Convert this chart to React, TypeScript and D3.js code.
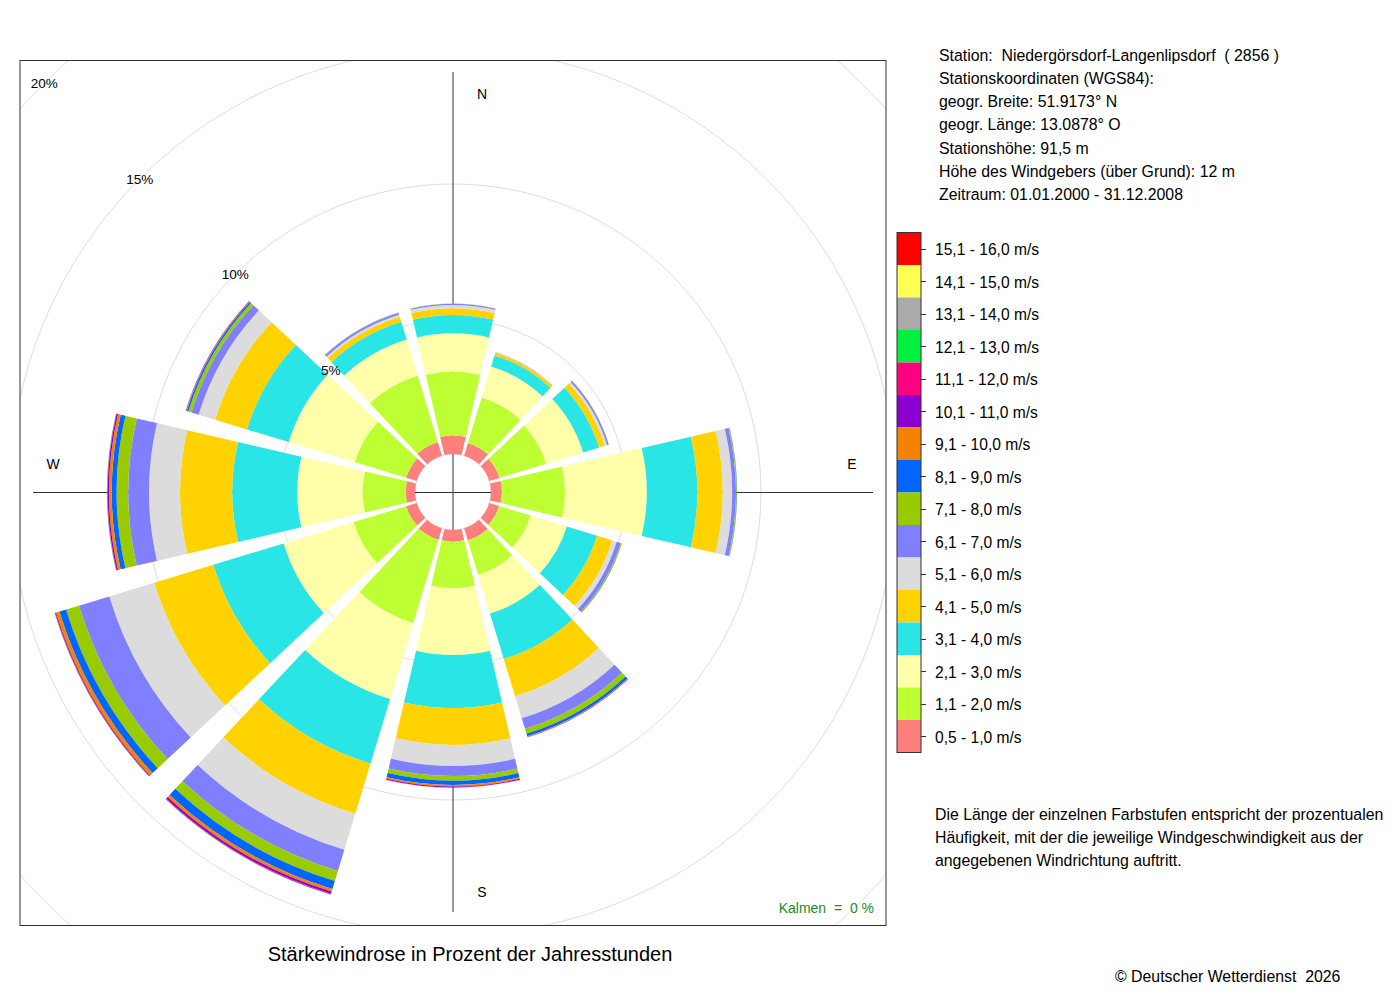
import React from "react";
import * as d3 from "d3";

// Wind directions (degrees, compass)
const DIRECTIONS = [0, 30, 60, 90, 120, 150, 180, 210, 240, 270, 300, 330];

// Speed classes (legend)
const SPEED_LABELS = [
  "0,5 - 1,0 m/s", "1,1 - 2,0 m/s", "2,1 - 3,0 m/s", "3,1 - 4,0 m/s",
  "4,1 - 5,0 m/s", "5,1 - 6,0 m/s", "6,1 - 7,0 m/s", "7,1 - 8,0 m/s",
  "8,1 - 9,0 m/s", "9,1 - 10,0 m/s", "10,1 - 11,0 m/s", "11,1 - 12,0 m/s",
  "12,1 - 13,0 m/s", "13,1 - 14,0 m/s", "14,1 - 15,0 m/s", "15,1 - 16,0 m/s",
];
const SPEED_COLORS = [
  "#FF7F7F", "#BEFF33", "#FFFFAA", "#29E5E5",
  "#FFD200", "#DCDCDC", "#7F7FFF", "#99CC00",
  "#0066FF", "#F58200", "#8B00D0", "#FF0080",
  "#00F040", "#AAAAAA", "#FFFF55", "#FF0000",
];

// Frequencies in % of year hours, per direction (N, 30, 60, ..., 330)
const F_05_10 = [0.68, 0.49, 0.39, 0.40, 0.38, 0.47, 0.43, 0.45, 0.41, 0.34, 0.41, 0.53];
const F_11_20 = [2.37, 1.76, 1.81, 2.34, 1.22, 1.33, 1.73, 3.22, 2.04, 1.60, 1.99, 2.57];
const F_21_30 = [1.42, 1.20, 1.43, 3.03, 1.40, 1.50, 2.47, 2.94, 2.70, 2.42, 2.55, 1.40];
const F_31_40 = [0.68, 0.43, 0.62, 1.87, 1.17, 1.76, 1.97, 2.50, 2.72, 2.41, 1.62, 0.68];
const F_41_50 = [0.25, 0.10, 0.22, 0.94, 0.59, 1.44, 1.36, 1.94, 2.29, 1.93, 1.23, 0.20];
const F_51_60 = [0.12, 0.02, 0.09, 0.35, 0.17, 0.85, 0.78, 1.39, 1.74, 1.15, 0.64, 0.07];
const F_61_70 = [0.04, 0.01, 0.06, 0.14, 0.15, 0.41, 0.37, 0.82, 1.17, 0.77, 0.28, 0.07];
const F_71_80 = [0.01, 0.00, 0.01, 0.03, 0.04, 0.19, 0.17, 0.39, 0.50, 0.43, 0.12, 0.01];
const F_81_90 = [0.00, 0.00, 0.00, 0.01, 0.01, 0.10, 0.16, 0.31, 0.26, 0.18, 0.06, 0.01];
const F_91_100 = [0.00, 0.00, 0.00, 0.00, 0.00, 0.03, 0.06, 0.10, 0.13, 0.10, 0.02, 0.00];
const F_101_110 = [0.00, 0.00, 0.00, 0.00, 0.00, 0.01, 0.03, 0.08, 0.03, 0.05, 0.01, 0.00];
const F_111_120 = [0.00, 0.00, 0.00, 0.00, 0.00, 0.00, 0.01, 0.03, 0.02, 0.02, 0.01, 0.00];
const F_121_130 = [0.00, 0.00, 0.00, 0.00, 0.00, 0.00, 0.00, 0.01, 0.01, 0.01, 0.00, 0.00];
const F_131_140 = [0, 0, 0, 0, 0, 0, 0, 0, 0, 0, 0, 0];
const F_141_150 = [0, 0, 0, 0, 0, 0, 0, 0, 0, 0, 0, 0];
const F_151_160 = [0, 0, 0, 0, 0, 0, 0, 0, 0, 0, 0, 0];

const RING_VALUES = [5, 10, 15, 20];
const RING_LABELS = ["5%", "10%", "15%", "20%"];
const CARDINALS = ["N", "E", "S", "W"];

const STATION_INFO = [
  "Station:  Niedergörsdorf-Langenlipsdorf  ( 2856 )",
  "Stationskoordinaten (WGS84):",
  "geogr. Breite: 51.9173° N",
  "geogr. Länge: 13.0878° O",
  "Stationshöhe: 91,5 m",
  "Höhe des Windgebers (über Grund): 12 m",
  "Zeitraum: 01.01.2000 - 31.12.2008",
];
const NOTE_LINES = [
  "Die Länge der einzelnen Farbstufen entspricht der prozentualen",
  "Häufigkeit, mit der die jeweilige Windgeschwindigkeit aus der",
  "angegebenen Windrichtung auftritt.",
];
const TITLE = "Stärkewindrose in Prozent der Jahresstunden";
const CALMS = "Kalmen  =  0 %";
const COPYRIGHT = "© Deutscher Wetterdienst  2026";

const CLASS_FREQS = [
  F_05_10, F_11_20, F_21_30, F_31_40, F_41_50, F_51_60, F_61_70, F_71_80,
  F_81_90, F_91_100, F_101_110, F_111_120, F_121_130, F_131_140, F_141_150, F_151_160,
];

const FONT = "'Liberation Sans', Arial, Helvetica, sans-serif";

export default function App() {
  const cx = 453;
  const cy = 492;
  const frame = { x: 20, y: 60.5, w: 866, h: 865 };
  const r = d3.scaleLinear().domain([0, 20]).range([38, 578]);
  const halfWidth = 13.1; // degrees
  const toRad = (deg: number) => (deg * Math.PI) / 180;
  const arc = d3.arc<any>();

  const bands: { d: string; fill: string; key: string }[] = [];
  DIRECTIONS.forEach((dir, di) => {
    let cum = 0;
    CLASS_FREQS.forEach((arr, ci) => {
      const v = arr[di];
      if (v > 0) {
        const d = arc({
          innerRadius: r(cum),
          outerRadius: r(cum + v),
          startAngle: toRad(dir - halfWidth),
          endAngle: toRad(dir + halfWidth),
        }) as string;
        bands.push({ d, fill: SPEED_COLORS[ci], key: `${dir}-${ci}` });
      }
      cum += v;
    });
  });

  const cardinalPos: Record<string, [number, number]> = {
    N: [482, 99],
    E: [852, 469],
    S: [482, 897],
    W: [53, 469],
  };

  const legendX = 897;
  const legendTop = 232.5;
  const blockH = 32.5;
  const legendW = 24;
  const legendOrder = d3.range(SPEED_LABELS.length).reverse();

  return (
    <svg
      width={1400}
      height={1000}
      style={{ position: "absolute", left: 0, top: 0, background: "#fff" }}
      fontFamily={FONT}
    >
      <defs>
        <clipPath id="plotClip">
          <rect x={frame.x} y={frame.y} width={frame.w} height={frame.h} />
        </clipPath>
      </defs>

      <g clipPath="url(#plotClip)">
        {/* ring circles */}
        {[0, ...RING_VALUES].map((v) => (
          <circle key={v} cx={cx} cy={cy} r={r(v)} fill="none" stroke="#DDDDDD" strokeWidth={1} />
        ))}
        {/* axis lines */}
        <line x1={cx} y1={72} x2={cx} y2={912} stroke="#333" strokeWidth={1} />
        <line x1={33} y1={cy + 0.5} x2={873} y2={cy + 0.5} stroke="#333" strokeWidth={1} />
        {/* sectors */}
        <g transform={`translate(${cx},${cy})`}>
          {bands.map((b) => (
            <path key={b.key} d={b.d} fill={b.fill} />
          ))}
        </g>
        {/* ring labels */}
        {RING_VALUES.map((v, i) => {
          const a = toRad(315);
          const x = cx + r(v) * Math.sin(a);
          const y = cy - r(v) * Math.cos(a);
          return (
            <text key={v} x={x} y={y + 5} textAnchor="middle" fontSize={13.5} fill="#000">
              {RING_LABELS[i]}
            </text>
          );
        })}
      </g>

      <rect x={frame.x} y={frame.y} width={frame.w} height={frame.h} fill="none" stroke="#333" strokeWidth={1} />

      {CARDINALS.map((c) => (
        <text key={c} x={cardinalPos[c][0]} y={cardinalPos[c][1]} textAnchor="middle" fontSize={14} fill="#000">
          {c}
        </text>
      ))}

      <text x={874} y={913} textAnchor="end" fontSize={14} fill="#228B22" style={{ whiteSpace: "pre" }}>
        {CALMS}
      </text>

      <text x={470} y={961} textAnchor="middle" fontSize={20} fill="#000">
        {TITLE}
      </text>

      {STATION_INFO.map((t, i) => (
        <text key={i} x={939} y={61 + i * 23.15} fontSize={15.85} fill="#000" style={{ whiteSpace: "pre" }}>
          {t}
        </text>
      ))}

      {/* legend */}
      <g>
        {legendOrder.map((ci, k) => (
          <rect key={ci} x={legendX} y={legendTop + k * blockH} width={legendW} height={blockH} fill={SPEED_COLORS[ci]} />
        ))}
        <rect x={legendX} y={legendTop} width={legendW} height={blockH * SPEED_LABELS.length} fill="none" stroke="#333" strokeWidth={1} />
        {legendOrder.map((ci, k) => {
          const yc = legendTop + k * blockH + blockH / 2;
          return (
            <g key={ci}>
              <line x1={legendX + legendW} x2={legendX + legendW + 5} y1={Math.round(yc) + 0.5} y2={Math.round(yc) + 0.5} stroke="#333" />
              <text x={935} y={yc + 6.3} fontSize={15.6} fill="#000">
                {SPEED_LABELS[ci]}
              </text>
            </g>
          );
        })}
      </g>

      {NOTE_LINES.map((t, i) => (
        <text key={i} x={935} y={820 + i * 23} fontSize={15.85} fill="#000">
          {t}
        </text>
      ))}

      <text x={1115} y={982} fontSize={15.85} fill="#000" style={{ whiteSpace: "pre" }}>
        {COPYRIGHT}
      </text>
    </svg>
  );
}
